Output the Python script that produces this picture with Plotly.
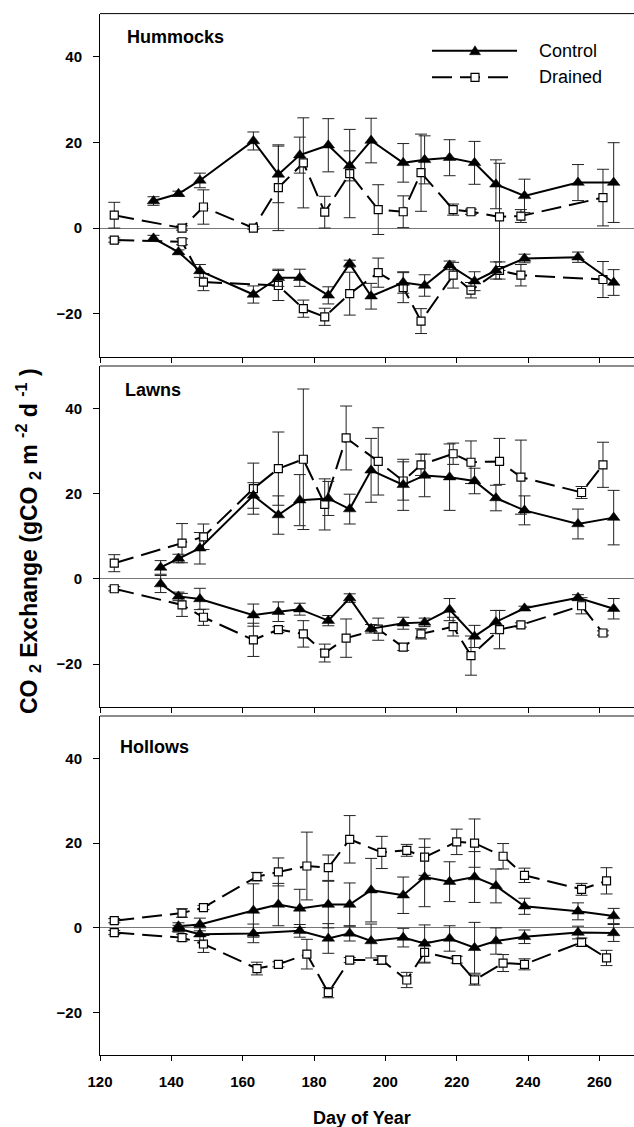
import plotly.graph_objects as go

# ---------------- data ----------------
# Hummocks
hum_ctrl_day = [135, 142, 148, 163, 170, 176, 184, 190, 196, 205, 211, 218, 225, 231, 239, 254, 264]
hum_ctrl_pos = [6.3, 8.0, 11.1, 20.3, 12.5, 17.0, 19.3, 14.5, 20.4, 15.2, 15.9, 16.4, 15.2, 10.2, 7.5, 10.6, 10.6]
hum_ctrl_pos_err = [1.0, 0.6, 1.7, 2.1, 6.6, 4.2, 6.2, 3.5, 5.2, 4.5, 5.6, 4.2, 5.0, 5.7, 3.9, 4.2, 9.3]
hum_ctrl_neg = [-2.4, -5.6, -10.0, -15.5, -11.6, -11.6, -15.7, -8.3, -15.9, -12.7, -13.4, -8.7, -12.4, -9.9, -7.1, -6.8, -12.7]
hum_ctrl_neg_err = [0.7, 0.5, 1.5, 2.0, 2.0, 2.0, 2.0, 0.8, 3.0, 2.5, 2.5, 1.0, 2.2, 2.0, 1.0, 1.2, 3.0]

hum_dr_day = [124, 143, 149, 163, 170, 177, 183, 190, 198, 205, 210, 219, 224, 232, 238, 261]
hum_dr_pos = [3.0, 0.0, 4.9, 0.0, 9.4, 15.2, 3.7, 12.7, 4.3, 3.8, 12.9, 4.3, 3.8, 2.6, 2.8, 7.1]
hum_dr_pos_err = [3.0, 0.5, 4.0, 0.3, 10.0, 10.5, 3.7, 10.3, 5.8, 3.7, 9.0, 1.3, 0.6, 12.5, 1.5, 6.6]
hum_dr_neg_day = [124, 143, 149, 170, 177, 183, 190, 198, 205, 210, 219, 224, 232, 238, 261]
hum_dr_neg = [-2.8, -3.2, -12.6, -13.4, -18.8, -20.7, -15.3, -10.4, -13.9, -21.7, -11.0, -14.5, -9.9, -11.0, -12.0]
hum_dr_neg_err = [0.5, 0.7, 2.0, 3.5, 2.0, 2.0, 5.0, 3.4, 3.5, 2.9, 3.0, 1.8, 2.0, 2.5, 4.2]

# Lawns
law_ctrl_day = [137, 142, 148, 163, 170, 176, 184, 190, 196, 205, 211, 218, 225, 231, 239, 254, 264]
law_ctrl_pos = [2.7, 4.8, 7.2, 19.6, 15.0, 18.5, 18.9, 16.4, 25.5, 22.1, 24.3, 23.9, 23.0, 19.0, 16.1, 12.9, 14.4]
law_ctrl_pos_err = [1.6, 1.0, 3.7, 3.0, 4.5, 6.0, 4.0, 3.5, 7.5, 6.0, 5.0, 7.8, 3.0, 3.0, 3.4, 3.5, 6.4]
law_ctrl_neg = [-1.2, -4.1, -4.7, -8.5, -7.7, -7.1, -9.8, -4.5, -11.7, -10.4, -10.2, -7.2, -13.5, -10.1, -6.9, -4.4, -7.0]
law_ctrl_neg_err = [2.0, 1.0, 2.5, 2.6, 2.3, 1.4, 1.2, 1.0, 1.0, 1.4, 1.0, 2.6, 2.6, 2.7, 0.5, 0.7, 2.4]

law_dr_day = [124, 143, 149, 163, 170, 177, 183, 189, 198, 205, 210, 219, 224, 232, 238, 255, 261]
law_dr_pos = [3.7, 8.4, 9.9, 21.2, 25.9, 28.1, 17.5, 33.1, 27.6, 23.0, 26.8, 29.4, 27.4, 27.6, 23.9, 20.3, 26.8]
law_dr_pos_err = [2.0, 4.6, 3.0, 6.0, 8.6, 16.5, 6.0, 7.5, 7.9, 4.5, 2.5, 2.5, 5.0, 5.4, 8.7, 1.4, 5.3]
law_dr_neg = [-2.3, -6.1, -9.0, -14.3, -11.9, -12.9, -17.4, -13.9, -11.8, -16.0, -12.9, -11.2, -18.0, -11.9, -10.8, -6.3, -12.7]
law_dr_neg_err = [0.5, 2.7, 1.9, 3.9, 0.7, 3.1, 2.1, 4.5, 2.6, 0.8, 1.2, 2.2, 4.6, 4.5, 0.5, 1.9, 0.5]

# Hollows
hol_ctrl_day = [142, 148, 163, 170, 176, 184, 190, 196, 205, 211, 218, 225, 231, 239, 254, 264]
hol_ctrl_pos = [0.4, 0.8, 4.1, 5.5, 4.6, 5.5, 5.5, 8.9, 7.7, 12.0, 10.9, 12.0, 9.9, 5.1, 3.9, 2.8]
hol_ctrl_pos_err = [0.8, 1.5, 6.3, 5.0, 4.5, 5.5, 5.1, 7.5, 4.3, 7.0, 4.7, 6.0, 4.0, 1.9, 2.0, 1.8]
hol_ctrl_neg_day = [142, 148, 163, 176, 184, 190, 196, 205, 211, 218, 225, 231, 239, 254, 264]
hol_ctrl_neg = [-0.2, -1.5, -1.3, -0.7, -2.5, -1.3, -3.1, -2.3, -3.7, -2.5, -4.7, -3.1, -2.1, -1.1, -1.2]
hol_ctrl_neg_err = [0.8, 1.5, 2.2, 1.5, 3.5, 1.8, 4.0, 2.2, 4.4, 3.0, 6.0, 3.1, 1.6, 1.5, 2.0]

hol_dr_day = [124, 143, 149, 164, 170, 178, 184, 190, 199, 206, 211, 220, 225, 233, 239, 255, 262]
hol_dr_pos = [1.7, 3.5, 4.8, 12.1, 13.2, 14.6, 14.2, 20.9, 17.8, 18.3, 16.7, 20.3, 20.0, 16.9, 12.4, 9.1, 11.1]
hol_dr_pos_err = [0.5, 1.0, 0.5, 1.0, 3.3, 8.0, 3.0, 5.6, 3.8, 1.4, 4.3, 3.0, 5.7, 3.0, 1.7, 1.4, 3.1]
hol_dr_neg = [-1.1, -2.3, -3.8, -9.6, -8.6, -6.2, -15.3, -7.6, -7.6, -12.3, -5.8, -7.5, -12.3, -8.3, -8.6, -3.4, -7.1]
hol_dr_neg_err = [0.5, 0.8, 2.0, 1.5, 0.6, 3.5, 1.2, 0.6, 1.0, 1.8, 2.5, 0.8, 1.2, 2.0, 1.3, 1.0, 1.8]

panel_names = ["Hummocks", "Lawns", "Hollows"]
series_names = ["Control", "Drained"]
x_ticks = [120, 140, 160, 180, 200, 220, 240, 260]
y_ticks = [-20, 0, 20, 40]

# ---------------- figure ----------------
W, H = 634, 1127
ML, MR, MT, MB = 100, 0, 13, 72
PW, PH = W - ML - MR, H - MT - MB

def py(px):  # pixel (from top) -> paper y
    return (H - MB - px) / PH

def px_(x):  # pixel (from left) -> paper x
    return (x - ML) / PW

FONT = "Liberation Sans, Arial, sans-serif"
fig = go.Figure()

def add_series(days, vals, errs, axis_n, ctrl):
    xa = "x" if axis_n == 1 else f"x{axis_n}"
    ya = "y" if axis_n == 1 else f"y{axis_n}"
    if ctrl:
        marker = dict(symbol="triangle-up", size=11, color="black", line=dict(color="black", width=0.5))
        line = dict(color="black", width=2)
    else:
        marker = dict(symbol="square", size=8, color="white", line=dict(color="black", width=1.2))
        line = dict(color="black", width=2, dash="20px,8px")
    fig.add_trace(go.Scatter(
        x=days, y=vals, mode="lines+markers", xaxis=xa, yaxis=ya,
        line=line, marker=marker, showlegend=False,
        error_y=dict(type="data", array=errs, visible=True, color="#222", thickness=1, width=6),
    ))

panels = [
    (hum_ctrl_day, hum_ctrl_pos, hum_ctrl_pos_err, hum_ctrl_day, hum_ctrl_neg, hum_ctrl_neg_err,
     hum_dr_day, hum_dr_pos, hum_dr_pos_err, hum_dr_neg_day, hum_dr_neg, hum_dr_neg_err),
    (law_ctrl_day, law_ctrl_pos, law_ctrl_pos_err, law_ctrl_day, law_ctrl_neg, law_ctrl_neg_err,
     law_dr_day, law_dr_pos, law_dr_pos_err, law_dr_day, law_dr_neg, law_dr_neg_err),
    (hol_ctrl_day, hol_ctrl_pos, hol_ctrl_pos_err, hol_ctrl_neg_day, hol_ctrl_neg, hol_ctrl_neg_err,
     hol_dr_day, hol_dr_pos, hol_dr_pos_err, hol_dr_day, hol_dr_neg, hol_dr_neg_err),
]

for i, p in enumerate(panels, start=1):
    cd, cp, cpe, cnd, cn, cne, dd, dp, dpe, dnd, dn, dne = p
    add_series(dd, dp, dpe, i, False)
    add_series(dnd, dn, dne, i, False)
    add_series(cd, cp, cpe, i, True)
    add_series(cnd, cn, cne, i, True)

# panel pixel extents (top, bottom)
panel_px = [(13.6, 356.7), (366.0, 706.7), (716.0, 1055.0)]

layout = dict(
    width=W, height=H, margin=dict(l=ML, r=MR, t=MT, b=MB, pad=0),
    paper_bgcolor="white", plot_bgcolor="white",
    font=dict(family=FONT, color="black"),
    showlegend=False,
)
for i, (top, bot) in enumerate(panel_px, start=1):
    xk = "xaxis" if i == 1 else f"xaxis{i}"
    yk = "yaxis" if i == 1 else f"yaxis{i}"
    ya = "y" if i == 1 else f"y{i}"
    xa = "x" if i == 1 else f"x{i}"
    layout[xk] = dict(
        domain=[0, 1], anchor=ya, range=[120, 269.7], tickvals=x_ticks,
        showticklabels=(i == 3), ticks="outside", ticklen=5, tickcolor="black", tickwidth=1,
        showline=True, linecolor="black", linewidth=1, showgrid=False, zeroline=False,
        tickfont=dict(size=15, family=FONT, color="black", weight="bold"),
        ticklabelstandoff=8,
    )
    layout[yk] = dict(
        domain=[py(bot), py(top)], anchor=xa, range=[-30, 50], tickvals=y_ticks,
        ticks="outside", ticklen=6, tickcolor="black", tickwidth=1,
        showline=True, linecolor="black", linewidth=1, showgrid=False,
        zeroline=True, zerolinecolor="#777", zerolinewidth=1,
        tickfont=dict(size=15, family=FONT, color="black", weight="bold"),
        ticklabelstandoff=8,
    )
fig.update_layout(**layout)

shapes = []
# top borders of panels
for i, (top, bot) in enumerate(panel_px):
    shapes.append(dict(type="line", xref="paper", yref="paper", x0=0, x1=1, y0=py(top), y1=py(top),
                       line=dict(color="black" if i == 0 else "#666", width=1 if i == 0 else 1.5)))

# legend (drawn)
leg_y = [50.7, 77.3]
shapes.append(dict(type="line", xref="paper", yref="paper", x0=px_(432), x1=px_(517),
                   y0=py(leg_y[0]), y1=py(leg_y[0]), line=dict(color="black", width=2)))
shapes.append(dict(type="line", xref="paper", yref="paper", x0=px_(432), x1=px_(509),
                   y0=py(leg_y[1]), y1=py(leg_y[1]), line=dict(color="black", width=2, dash="20px,8px")))
shapes.append(dict(type="path", xref="paper", yref="paper", xsizemode="pixel", ysizemode="pixel",
                   xanchor=px_(475), yanchor=py(leg_y[0]), path="M -5.5 -4 L 5.5 -4 L 0 5 Z",
                   fillcolor="black", line=dict(color="black", width=0.5)))
shapes.append(dict(type="path", xref="paper", yref="paper", xsizemode="pixel", ysizemode="pixel",
                   xanchor=px_(475), yanchor=py(leg_y[1]), path="M -4 -4 L 4 -4 L 4 4 L -4 4 Z",
                   fillcolor="white", line=dict(color="black", width=1.2)))
fig.update_layout(shapes=shapes)

ann = []
title_pos = [(125, 36.7), (123, 390), (118, 746.7)]
for name, (tx, ty) in zip(panel_names, title_pos):
    ann.append(dict(text=f"<b>{name}</b>", xref="paper", yref="paper", x=px_(tx), y=py(ty),
                    xanchor="left", yanchor="middle", showarrow=False,
                    font=dict(size=18, family=FONT, color="black")))
for name, ly in zip(series_names, leg_y):
    ann.append(dict(text=name, xref="paper", yref="paper", x=px_(537), y=py(ly),
                    xanchor="left", yanchor="middle", showarrow=False,
                    font=dict(size=18, family=FONT, color="black")))
ann.append(dict(text="<b>Day of Year</b>", xref="paper", yref="paper", x=px_(362), y=py(1118),
                xanchor="center", yanchor="middle", showarrow=False,
                font=dict(size=18, family=FONT, color="black")))
ann.append(dict(text="<b>CO <sub>2</sub> Exchange (gCO <sub>2</sub> m <sup>-2</sup> d <sup>-1</sup> )</b>",
                xref="paper", yref="paper", x=px_(28), y=py(541), textangle=-90,
                xanchor="center", yanchor="middle", showarrow=False,
                font=dict(size=23, family=FONT, color="black")))
fig.update_layout(annotations=ann)

fig.write_html("out.html")
